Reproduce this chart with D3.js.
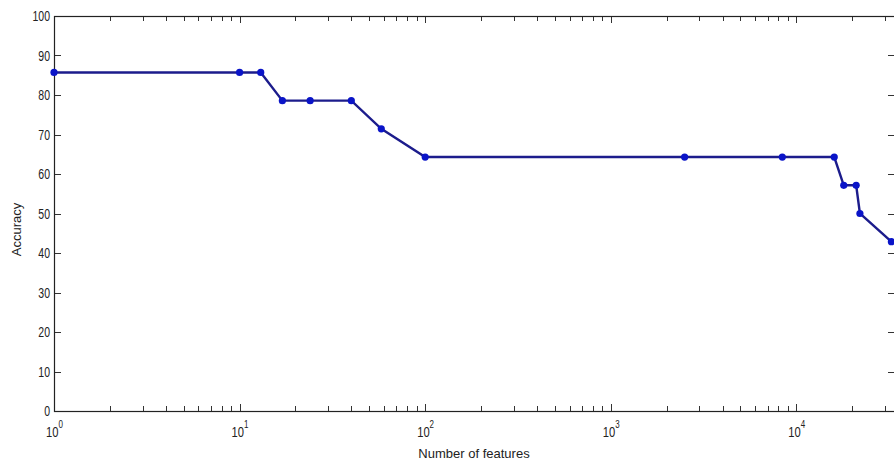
<!DOCTYPE html>
<html>
<head>
<meta charset="utf-8">
<script src="https://cdn.jsdelivr.net/npm/d3@7"></script>
<style>
  body { margin: 0; background: #fff; }
  svg text { font-family: "Liberation Sans", Arial, sans-serif; fill: #222; }
</style>
</head>
<body>
<div id="chart"></div>
<script>
// number of features vs accuracy (%)
const features = [1, 10, 13, 17, 24, 40, 58, 100, 2500, 8400, 16000, 18000, 21000, 22000, 32500];
const accuracy = [85.71, 85.71, 85.71, 78.57, 78.57, 78.57, 71.43, 64.29, 64.29, 64.29, 64.29, 57.14, 57.14, 50.0, 42.86];
const yTicks = [0, 10, 20, 30, 40, 50, 60, 70, 80, 90, 100];
const xDecades = [1, 10, 100, 1000, 10000];

const width = 894, height = 467;
const margin = { left: 54, right: -1, top: 16, bottom: 56 };

const svg = d3.select('#chart').append('svg')
    .attr('width', width)
    .attr('height', height);

const x = d3.scaleLog()
    .domain([1, 34000])
    .range([margin.left, width - margin.right]);

const y = d3.scaleLinear()
    .domain([0, 100])
    .range([height - margin.bottom, margin.top]);

const x0 = x.range()[0], x1 = x.range()[1];
const y0 = y.range()[0], y1 = y.range()[1];

// minor + major x ticks (inward, bottom and top)
const minor = [];
for (let d = 1; d <= 10000; d *= 10) {
  for (let k = 1; k < 10; k++) {
    const v = d * k;
    if (v <= x.domain()[1]) minor.push(v);
  }
}
const tickG = svg.append('g').attr('stroke', '#333').attr('stroke-width', 1);
tickG.selectAll('.xb').data(minor).enter().append('line')
    .attr('x1', d => Math.round(x(d)) + 0.5).attr('x2', d => Math.round(x(d)) + 0.5)
    .attr('y1', y0).attr('y2', d => xDecades.includes(d) ? y0 - 7 : y0 - 5);
tickG.selectAll('.xt').data(minor).enter().append('line')
    .attr('x1', d => Math.round(x(d)) + 0.5).attr('x2', d => Math.round(x(d)) + 0.5)
    .attr('y1', y1).attr('y2', d => xDecades.includes(d) ? y1 + 7 : y1 + 5);

// y ticks left and right
tickG.selectAll('.yl').data(yTicks).enter().append('line')
    .attr('x1', x0).attr('x2', x0 + 7)
    .attr('y1', d => Math.round(y(d)) + 0.5).attr('y2', d => Math.round(y(d)) + 0.5);
tickG.selectAll('.yr').data(yTicks).enter().append('line')
    .attr('x1', x1).attr('x2', x1 - 7)
    .attr('y1', d => Math.round(y(d)) + 0.5).attr('y2', d => Math.round(y(d)) + 0.5);

// axis box
svg.append('rect')
    .attr('x', x0 + 0.5).attr('y', y1 + 0.5)
    .attr('width', x1 - x0).attr('height', y0 - y1)
    .attr('fill', 'none').attr('stroke', '#222').attr('stroke-width', 1.2);

// y tick labels (narrow, MATLAB-like)
svg.selectAll('.ylab').data(yTicks).enter().append('text')
    .attr('transform', d => `translate(${x0 - 4},${y(d) + 5}) scale(0.75,1)`)
    .attr('text-anchor', 'end')
    .attr('font-size', 14)
    .text(d => d);

// x decade labels with superscripts
const xl = svg.selectAll('.xlab').data(xDecades).enter().append('text')
    .attr('transform', d => `translate(${x(d) - 8},${y0 + 26}) scale(0.8,1)`)
    .attr('font-size', 14);
xl.append('tspan').text('10');
xl.append('tspan').attr('dy', -9).attr('font-size', 10).text(d => Math.round(Math.log10(d)));

// axis titles
svg.append('text')
    .attr('x', 474).attr('y', y0 + 47)
    .attr('text-anchor', 'middle')
    .attr('font-size', 13)
    .text('Number of features');

svg.append('text')
    .attr('transform', `translate(21,${(y0 + y1) / 2 + 16}) rotate(-90)`)
    .attr('text-anchor', 'middle')
    .attr('font-size', 13)
    .text('Accuracy');

// data line and markers
const pts = features.map((f, i) => [f, accuracy[i]]);
svg.append('path')
    .datum(pts)
    .attr('fill', 'none')
    .attr('stroke', '#1c1c8c')
    .attr('stroke-width', 2.4)
    .attr('d', d3.line().x(d => x(d[0])).y(d => y(d[1])));

svg.selectAll('.pt').data(pts).enter().append('circle')
    .attr('cx', d => x(d[0])).attr('cy', d => y(d[1]))
    .attr('r', 3.6)
    .attr('fill', '#0a14c8');
</script>
</body>
</html>
